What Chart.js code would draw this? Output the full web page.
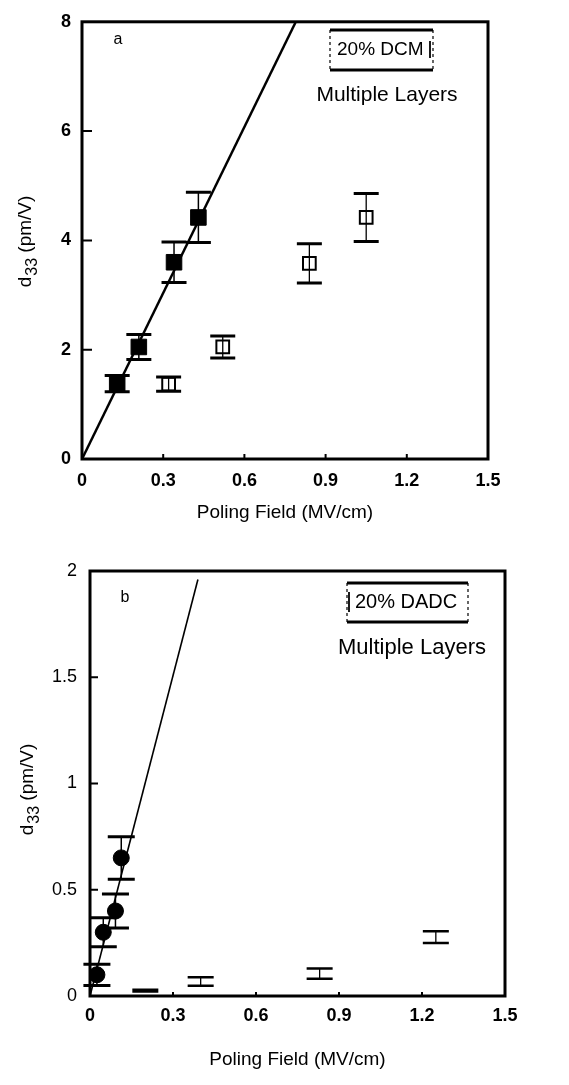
<!DOCTYPE html>
<html><head><meta charset="utf-8">
<script src="https://cdn.jsdelivr.net/npm/chart.js@4.4.1/dist/chart.umd.min.js"></script>
<style>
html,body{margin:0;padding:0;background:#fff;}
#wrap{position:relative;width:569px;height:1085px;overflow:hidden;}
canvas{position:absolute;left:0;}
#ca{top:0;}
#cb{top:540px;}
</style></head><body>
<div id="wrap">
<canvas id="ca" width="569" height="540"></canvas>
<canvas id="cb" width="569" height="545"></canvas>
</div>
<script>
// ---- data ----
const xTicks = [0, 0.3, 0.6, 0.9, 1.2, 1.5];

const aYTicks = [0, 2, 4, 6, 8];
const aFilledX = [0.13, 0.21, 0.34, 0.43];
const aFilledY = [1.38, 2.05, 3.6, 4.42];
const aFilledErr = [0.15, 0.23, 0.37, 0.46];
const aOpenX = [0.32, 0.52, 0.84, 1.05];
const aOpenY = [1.37, 2.05, 3.58, 4.42];
const aOpenErr = [0.13, 0.2, 0.36, 0.44];
const aFitX = [0, 0.79];
const aFitY = [0, 8];

const bYTicks = [0, 0.5, 1, 1.5, 2];
const bFilledX = [0.025, 0.048, 0.092, 0.113];
const bFilledY = [0.10, 0.30, 0.40, 0.65];
const bFilledErr = [0.05, 0.068, 0.08, 0.1];
const bOpenX = [0.2, 0.4, 0.83, 1.25];
const bOpenY = [0.025, 0.068, 0.105, 0.277];
const bOpenErr = [0.004, 0.02, 0.024, 0.028];
const bFitX = [0, 0.39];
const bFitY = [0, 1.96];

const xTitle = 'Poling Field (MV/cm)';
const yTitleMain = 'd', yTitleSub = '33', yTitleRest = ' (pm/V)';

// ---- helpers ----
const FAM = "'Liberation Sans', Arial, Helvetica, sans-serif";
const pts = (xs, ys) => xs.map((x, i) => ({x: x, y: ys[i]}));

const errPlugin = {
  id: 'errbars',
  afterDatasetsDraw(chart) {
    const ctx = chart.ctx, ys = chart.scales.y;
    chart.data.datasets.forEach((ds, i) => {
      if (!ds.errors) return;
      const meta = chart.getDatasetMeta(i);
      meta.data.forEach((el, j) => {
        const v = ds.data[j].y, e = ds.errors[j];
        const yt = ys.getPixelForValue(v + e), yb = ys.getPixelForValue(v - e);
        ctx.save();
        ctx.strokeStyle = '#000';
        ctx.lineWidth = ds.errLine;
        ctx.beginPath(); ctx.moveTo(el.x, yt); ctx.lineTo(el.x, yb); ctx.stroke();
        ctx.lineWidth = ds.capLine;
        ctx.beginPath();
        ctx.moveTo(el.x - ds.cap, yt); ctx.lineTo(el.x + ds.cap, yt);
        ctx.moveTo(el.x - ds.cap, yb); ctx.lineTo(el.x + ds.cap, yb);
        ctx.stroke();
        ctx.restore();
      });
    });
  }
};

function makeFrame(cfg) {
  return {
    id: 'frame',
    afterDraw(chart) {
      const ctx = chart.ctx, a = chart.chartArea;
      const xs = chart.scales.x, ys = chart.scales.y;
      ctx.save();
      ctx.strokeStyle = '#000';
      ctx.fillStyle = '#000';
      ctx.lineWidth = cfg.frameW;
      ctx.strokeRect(a.left, a.top, a.right - a.left, a.bottom - a.top);
      ctx.lineWidth = 2;
      ctx.beginPath();
      ys.ticks.forEach(t => {
        if (t.value === ys.min || t.value === ys.max) return;
        const y = ys.getPixelForValue(t.value);
        ctx.moveTo(a.left, y); ctx.lineTo(a.left + cfg.yTickLen, y);
      });
      xs.ticks.forEach(t => {
        if (t.value === xs.min || t.value === xs.max) return;
        const x = xs.getPixelForValue(t.value);
        ctx.moveTo(x, a.bottom); ctx.lineTo(x, a.bottom - cfg.xTickLen);
      });
      ctx.stroke();

      // y title with subscript
      ctx.save();
      ctx.translate(cfg.yTitleX, cfg.yTitleY);
      ctx.rotate(-Math.PI / 2);
      ctx.textBaseline = 'middle';
      ctx.textAlign = 'left';
      const mainF = cfg.yTitleSize + 'px ' + FAM, subF = cfg.ySubSize + 'px ' + FAM;
      ctx.font = mainF; const w1 = ctx.measureText(yTitleMain).width, w3 = ctx.measureText(yTitleRest).width;
      ctx.font = subF; const w2 = ctx.measureText(yTitleSub).width;
      let x0 = -(w1 + w2 + w3) / 2;
      ctx.font = mainF; ctx.fillText(yTitleMain, x0, 0); x0 += w1;
      ctx.font = subF; ctx.fillText(yTitleSub, x0 + 1, cfg.ySubSize * 0.4); x0 += w2 + 1;
      ctx.font = mainF; ctx.fillText(yTitleRest, x0, 0);
      ctx.restore();

      // panel letter
      ctx.textAlign = 'center'; ctx.textBaseline = 'middle';
      ctx.font = '16px ' + FAM;
      ctx.fillText(cfg.letter, cfg.letterX, cfg.letterY);

      // label box
      const b = cfg.box;
      ctx.lineWidth = 3;
      ctx.beginPath();
      ctx.moveTo(b.l, b.t); ctx.lineTo(b.r, b.t);
      ctx.moveTo(b.l, b.b); ctx.lineTo(b.r, b.b);
      ctx.stroke();
      ctx.lineWidth = 1.2;
      ctx.setLineDash([3, 3]);
      ctx.beginPath();
      ctx.moveTo(b.l, b.t); ctx.lineTo(b.l, b.b);
      ctx.moveTo(b.r, b.t); ctx.lineTo(b.r, b.b);
      ctx.stroke();
      ctx.setLineDash([]);
      ctx.lineWidth = 1.8;
      ctx.beginPath();
      ctx.moveTo(b.barX, b.barT); ctx.lineTo(b.barX, b.barB);
      ctx.stroke();
      ctx.textAlign = 'left';
      ctx.font = b.size + 'px ' + FAM;
      ctx.fillText(b.text, b.tx, b.ty);
      ctx.textAlign = 'center';
      ctx.font = cfg.mlSize + 'px ' + FAM;
      ctx.fillText('Multiple Layers', cfg.mlX, cfg.mlY);
      ctx.restore();
    }
  };
}

function makeChart(id, c) {
  return new Chart(document.getElementById(id), {
    type: 'scatter',
    data: { datasets: [
      { label: 'fit', type: 'line', data: pts(c.fitX, c.fitY), borderColor: '#000', borderWidth: c.fitW,
        pointRadius: 0, fill: false, showLine: true, tension: 0 },
      { label: 'filled', data: pts(c.fx, c.fy), errors: c.fe, pointStyle: c.fStyle, pointRadius: c.fR,
        backgroundColor: '#000', borderColor: '#000', borderWidth: 1, cap: c.cap, capLine: 3, errLine: 1.5 },
      { label: 'open', data: pts(c.ox, c.oy), errors: c.oe, pointStyle: 'rect', pointRadius: c.oR,
        backgroundColor: '#fff', borderColor: '#000', borderWidth: 2, cap: c.oCap, capLine: c.oCapLine, errLine: 1.3 }
    ]},
    options: {
      responsive: false, animation: false, events: [],
      layout: { padding: c.pad },
      plugins: { legend: { display: false }, tooltip: { enabled: false } },
      scales: {
        x: {
          type: 'linear', min: 0, max: 1.5,
          afterBuildTicks: s => { s.ticks = xTicks.map(v => ({ value: v })); },
          afterFit: s => { s.height = c.xH; },
          grid: { display: false, drawTicks: false }, border: { display: false },
          ticks: { font: { family: FAM, size: 18, weight: 'bold' }, color: '#000', padding: c.xPad,
                   maxRotation: 0, autoSkip: false, callback: v => String(v) },
          title: { display: true, text: xTitle, font: { family: FAM, size: 19 }, color: '#000',
                   padding: { top: 0, bottom: c.xTitlePad } }
        },
        y: {
          type: 'linear', min: c.yTicks[0], max: c.yTicks[c.yTicks.length - 1],
          afterBuildTicks: s => { s.ticks = c.yTicks.map(v => ({ value: v })); },
          afterFit: s => { s.width = c.yW; },
          grid: { display: false, drawTicks: false }, border: { display: false },
          ticks: { font: { family: FAM, size: 18, weight: c.yWeight }, color: '#000', padding: c.yPad,
                   callback: v => String(v) }
        }
      }
    },
    plugins: [errPlugin, makeFrame(c.frame)]
  });
}

makeChart('ca', {
  fitX: aFitX, fitY: aFitY, fitW: 2.5,
  fx: aFilledX, fy: aFilledY, fe: aFilledErr, fStyle: 'rect', fR: 11,
  ox: aOpenX, oy: aOpenY, oe: aOpenErr, oR: 9,
  cap: 12.5, oCap: 12.5, oCapLine: 3, yTicks: aYTicks, yWeight: 'bold',
  pad: { left: 0, right: 81, top: 11, bottom: 0 },
  xH: 81, yW: 82, xPad: 11, yPad: 11, xTitlePad: 16,
  frame: { frameW: 3, yTickLen: 10, xTickLen: 5,
    yTitleX: 26, yTitleY: 242, yTitleSize: 19, ySubSize: 16,
    letter: 'a', letterX: 118, letterY: 40,
    box: { l: 330, r: 433, t: 30, b: 70, barX: 430, barT: 41, barB: 58,
           text: '20% DCM', tx: 337, ty: 50, size: 19 },
    mlSize: 21, mlX: 387, mlY: 95 }
});

makeChart('cb', {
  fitX: bFitX, fitY: bFitY, fitW: 1.6,
  fx: bFilledX, fy: bFilledY, fe: bFilledErr, fStyle: 'circle', fR: 8,
  ox: bOpenX, oy: bOpenY, oe: bOpenErr, oR: 0,
  cap: 13.5, oCap: 13, oCapLine: 2.5, yTicks: bYTicks, yWeight: 'normal',
  pad: { left: 0, right: 64, top: 31, bottom: 0 },
  xH: 89, yW: 90, xPad: 9, yPad: 13, xTitlePad: 14,
  frame: { frameW: 3, yTickLen: 8, xTickLen: 4,
    yTitleX: 28, yTitleY: 250, yTitleSize: 19, ySubSize: 16,
    letter: 'b', letterX: 125, letterY: 58,
    box: { l: 347, r: 468, t: 43, b: 82, barX: 349, barT: 52, barB: 72,
           text: '20% DADC', tx: 355, ty: 62, size: 20 },
    mlSize: 22, mlX: 412, mlY: 108 }
});
</script>
</body></html>
